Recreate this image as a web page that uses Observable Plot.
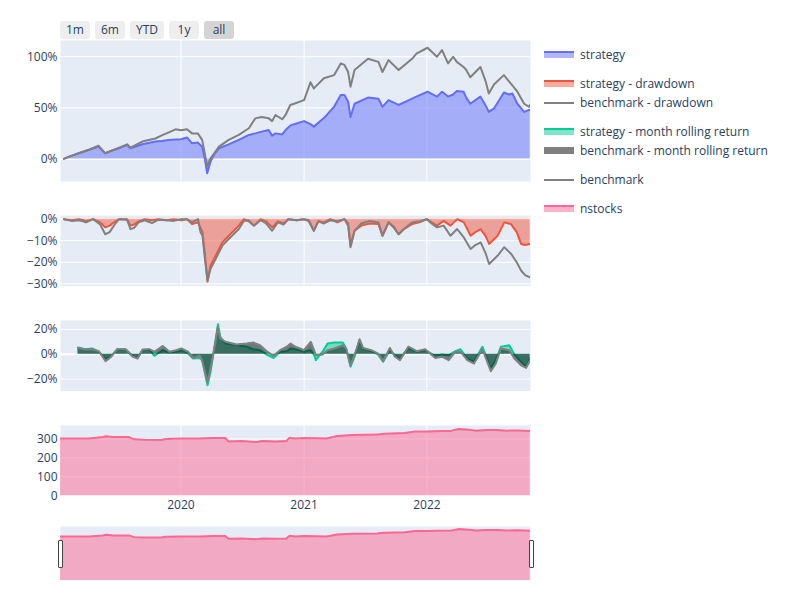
<!DOCTYPE html>
<html>
<head>
<meta charset="utf-8">
<script src="https://cdn.jsdelivr.net/npm/d3@7"></script>
<script src="https://cdn.jsdelivr.net/npm/@observablehq/plot@0.6"></script>
<style>
  body { margin: 0; background: #fff; font-family: "Open Sans", verdana, arial, sans-serif; }
  #chart { position: relative; width: 800px; height: 600px; overflow: hidden; background: #fff; }
  #chart > svg { position: absolute; left: 0; }
  .btn { position: absolute; top: 21px; height: 18px; line-height: 18px; text-align: center;
         font-size: 12px; color: #2a3f5f; background: #eeeeee; border-radius: 3px; }
  .btn.active { background: #d4d4d4; }
  .grab { position: absolute; width: 3px; height: 26px; background: #fff; border: 1px solid #444; border-radius: 1px; }
</style>
</head>
<body>
<div id="chart"></div>
<script>
// ---------------- data ----------------
const perfDates = [
  "2019-01-18","2019-02-05","2019-03-03","2019-04-02","2019-05-01","2019-05-21","2019-06-15","2019-07-05","2019-07-25","2019-08-04","2019-09-08","2019-10-17","2019-11-05","2019-11-26","2019-12-16",
  "2020-01-01","2020-01-19","2020-02-03","2020-02-20","2020-03-04","2020-03-12","2020-03-19","2020-03-29","2020-04-10","2020-04-23","2020-05-22","2020-06-21","2020-07-21","2020-08-09","2020-08-28","2020-09-18","2020-09-28","2020-10-08","2020-10-28","2020-11-07","2020-11-21","2020-12-02",
  "2021-01-01","2021-01-20","2021-01-30","2021-03-01","2021-03-31","2021-04-20","2021-05-01","2021-05-12","2021-05-19","2021-05-31","2021-07-10","2021-08-10","2021-08-22","2021-09-09","2021-10-09","2021-11-18","2021-12-01",
  "2022-01-03","2022-01-31","2022-02-15","2022-03-05","2022-03-20","2022-03-31","2022-04-20","2022-04-28","2022-05-10","2022-06-09","2022-06-25","2022-07-04","2022-07-20","2022-08-18","2022-09-02","2022-09-12","2022-09-27","2022-10-17","2022-11-01","2022-11-04"
];
const strategyReturn = [
  0,2.5,5.5,8.8,12,5.5,8.8,11,13.7,10.4,14.3,17,17.5,18.6,19,
  19.2,21,15.3,16,12,0,-14,-2.6,5,10.4,14.3,18.6,23.5,25,26.7,28.3,22.8,25,24,28.3,32.6,34,
  37,34,31.6,40,51,62.5,62.5,56,41,54,60,59,51,57.6,52.8,59,61,
  65.8,61,65.8,61,63,66.4,65.8,60,54,61,52,46,49.5,65,63,64,54,46,48,48
];
const benchmarkReturn = [
  0,2.5,5.5,9,13,5.5,8.8,11.5,14.3,11,17,20,23,26,29,
  28,29,25,25,18.6,5,-7.5,0.6,6,12,18.6,23.5,30,39.7,41,39.7,37,43,38.8,43,52.8,54,
  57.6,75,69,79,82,93.5,92,85,70.7,87,98,95,85,96.7,87,98,103,
  108.8,100,106.5,93.5,100,95,90,87,80,90,75.6,64,73,82,76,72,65.8,54,51,53
];

const ddDates = [
  "2019-01-18","2019-02-10","2019-03-05","2019-03-25","2019-04-15","2019-05-06","2019-05-21","2019-06-03","2019-06-20","2019-07-01","2019-07-25","2019-08-04","2019-08-15","2019-08-28","2019-09-15","2019-10-07","2019-10-25","2019-11-20","2019-12-10",
  "2020-01-02","2020-01-19","2020-02-03","2020-02-21","2020-02-28","2020-03-05","2020-03-12","2020-03-20","2020-03-29","2020-04-13","2020-05-03","2020-05-22","2020-06-21","2020-07-06","2020-07-20","2020-08-05","2020-08-25","2020-09-10","2020-09-28","2020-10-15","2020-11-01","2020-11-15","2020-12-10",
  "2021-01-01","2021-01-15","2021-01-30","2021-02-12","2021-03-01","2021-03-20","2021-04-10","2021-05-01","2021-05-12","2021-05-19","2021-05-31","2021-06-20","2021-07-15","2021-08-10","2021-08-22","2021-09-09","2021-09-25","2021-10-09","2021-10-25","2021-11-18","2021-12-10",
  "2022-01-01","2022-01-15","2022-01-31","2022-02-20","2022-03-12","2022-04-01","2022-04-21","2022-05-11","2022-05-25","2022-06-10","2022-06-25","2022-07-05","2022-07-30","2022-08-19","2022-09-08","2022-09-25","2022-10-08","2022-10-20","2022-11-04"
];
const strategyDrawdown = [
  0,-0.5,0,-1,0,-1.5,-3.8,-3,-1,0,0,-3,-2.5,-1,0,-0.5,0,-0.5,0,
  -0.5,0,-2.3,-1.5,-4,-6,-16,-29,-21.5,-17,-10.8,-7.7,-3,0,-1,-3,0,-1,-3.8,-1,-2,0,-0.5,
  0,-1,-5.4,-1,-1.5,0,-1.5,0,-3,-12.3,-5.4,-3,-2,-2.3,-7.7,-1.5,-3.5,-7,-4.6,-2.3,-1.5,
  0,-1.5,-3,-0.8,-3,0,-1.5,-7.7,-6,-4.6,-8,-11.5,-7.7,-1.5,-2.3,-6,-11.5,-12,-11.5
];
const benchmarkDrawdown = [
  0,-0.8,-0.5,-1.5,0,-2.5,-7,-6,-2,0,-0.3,-4.6,-4,-1.5,-0.5,-1.8,-0.3,-0.5,-0.8,
  0,0,-1.5,0,-6,-7.7,-18,-28.5,-23,-18.5,-12.3,-9.2,-4.6,-0.8,-0.5,-3,-0.5,-2,-5.4,-1.5,-2.5,0,-0.5,
  0,-0.5,-5.4,-1,-2,-0.5,-1,0,-2,-13,-5.4,-2,-0.8,-1.5,-7.7,-1.5,-4,-7,-4.6,-1.5,-1,
  0,-2,-3.8,-3,-7.7,-4.6,-8.5,-13.8,-12,-10.8,-16,-20.8,-17,-13,-16,-20,-23.8,-26,-27
];

const rollDates = [
  "2019-03-01","2019-03-23","2019-04-12","2019-05-02","2019-05-22","2019-06-06","2019-06-26","2019-07-21","2019-08-10","2019-08-25","2019-09-09","2019-09-29","2019-10-14","2019-11-08","2019-11-28","2019-12-18",
  "2020-01-02","2020-01-22","2020-02-06","2020-02-26","2020-03-04","2020-03-20","2020-03-29","2020-04-12","2020-04-20","2020-04-27","2020-05-12","2020-06-15","2020-07-15","2020-08-03","2020-08-23","2020-09-12","2020-10-02","2020-10-22","2020-11-11","2020-11-22","2020-12-06","2020-12-20",
  "2021-01-01","2021-01-21","2021-01-31","2021-02-05","2021-02-25","2021-03-12","2021-04-01","2021-04-26","2021-05-06","2021-05-19","2021-05-31","2021-06-15","2021-06-25","2021-07-20","2021-08-09","2021-08-24","2021-09-13","2021-09-28","2021-10-13","2021-11-07","2021-12-02","2021-12-27",
  "2022-01-26","2022-02-15","2022-03-07","2022-03-27","2022-04-11","2022-05-01","2022-05-21","2022-06-15","2022-07-10","2022-07-25","2022-08-09","2022-09-03","2022-09-18","2022-10-08","2022-10-23","2022-11-04"
];
const strategyRolling = [
  5.4,4,4.6,2,-4,-2,4,3.8,-1.3,-3,3.2,3.5,-1.3,3.2,1.3,2,
  3.2,0.5,-3.5,-3,-4.8,-25,-14,10,24,14,8.6,7.2,6,4,3.2,-0.3,-3,2,2.4,4.6,4,3.2,
  2,3.2,-0.8,-4.8,2,8.6,9.4,9.4,4.6,-10,-2,11.3,4.6,2.4,-0.3,-6,3.2,-0.8,-3.5,5,2,3.2,
  -1.3,-0.3,-0.8,2.4,4,-3.5,-6,6,-11.5,-4.8,6,7.2,-0.3,-6,-10,-3.5
];
const benchmarkRolling = [
  5,3.8,4,2.4,-5.6,-2.5,4,4,-2,-3.5,3.8,4,2,6.5,2,3.2,
  4.6,2,-3,-1.3,-4.8,-22.3,-11.5,8.6,22,12.6,10,7.8,8.6,9.4,7.2,2.4,-1.3,3.2,6,8.6,6,4.6,
  3.2,10,3,-0.8,-0.3,3.2,4.6,7.2,4.6,-8.9,-0.8,12,5,3.2,0.5,-5.6,5,-2,-4.8,6,2.4,4,
  -3,-2,-4.8,2,2,-4.8,-7.5,4,-13.7,-7.5,4.6,3.2,-3.5,-8.9,-11,-4.8
];

const stockDates = [
  "2019-01-08","2019-02-21","2019-04-03","2019-05-14","2019-05-24","2019-06-14","2019-07-30","2019-08-15","2019-09-15","2019-11-05","2019-11-15",
  "2020-01-01","2020-02-26","2020-04-07","2020-05-12","2020-05-22","2020-06-28","2020-08-13","2020-08-29","2020-10-09","2020-11-09","2020-11-19","2020-12-05",
  "2021-01-01","2021-03-09","2021-04-09","2021-05-25","2021-08-06","2021-08-26","2021-10-28","2021-11-27",
  "2022-01-01","2022-03-16","2022-04-05","2022-05-06","2022-05-26","2022-06-26","2022-07-27","2022-08-27","2022-09-27","2022-10-18","2022-11-04"
];
const nstocks = [
  303,302,303,310,314,310,310,298,296,295,300,
  303,303,305,305,287,289,284,289,287,289,307,303,
  305,303,316,321,323,328,332,340,
  340,344,353,349,344,347,347,344,345,344,342
];

const yearTicks = ["2020-01-01","2021-01-01","2022-01-01"];
const perfTicks = [0, 50, 100];
const ddTicks = [0, -10, -20, -30];
const rollTicks = [-20, 0, 20];
const stockTicks = [0, 100, 200, 300];
const buttonLabels = ["1m","6m","YTD","1y","all"];
const legendLabels = ["strategy","strategy - drawdown","benchmark - drawdown","strategy - month rolling return","benchmark - month rolling return","benchmark","nstocks"];

// ---------------- build tables ----------------
const parse = d3.utcParse("%Y-%m-%d");
const perf = perfDates.map((d, i) => ({date: parse(d), s: strategyReturn[i], b: benchmarkReturn[i]}));
const dd = ddDates.map((d, i) => ({date: parse(d), s: strategyDrawdown[i], b: benchmarkDrawdown[i]}));
const roll = rollDates.map((d, i) => ({date: parse(d), s: strategyRolling[i], b: benchmarkRolling[i]}));
const stocks = stockDates.map((d, i) => ({date: parse(d), n: nstocks[i]}));
const years = yearTicks.map(parse);

const FONT = '"Open Sans", verdana, arial, sans-serif';
const TEXT = "#2a3f5f";
const BG = "#e5ecf6";
const xDomain = [parse("2019-01-08"), parse("2022-11-05")];
const pct = d => (d < 0 ? "\u2212" : "") + Math.abs(d) + "%";

function panel({top, h, yDomain, yTicks, tickFormat, marks, xAxis = false, grid = true}) {
  const mb = xAxis ? 24 : 0;
  const svg = Plot.plot({
    width: 800, height: h + mb,
    marginLeft: 60, marginRight: 270, marginTop: 0, marginBottom: mb,
    style: {fontFamily: FONT, fontSize: "12px", color: TEXT, background: "transparent", overflow: "visible"},
    x: {type: "utc", domain: xDomain, axis: xAxis ? undefined : null, label: null},
    y: {domain: yDomain, axis: yTicks.length ? undefined : null, label: null},
    marks: [
      Plot.frame({fill: BG, stroke: "none"}),
      ...(grid ? [
        Plot.gridX(years, {stroke: "#fff", strokeOpacity: 1, strokeWidth: 1}),
        Plot.gridY(yTicks.filter(t => t !== 0), {stroke: "#fff", strokeOpacity: 1, strokeWidth: 1}),
        Plot.ruleY([0], {stroke: "#fff", strokeWidth: 2})
      ] : []),
      ...marks,
      ...(yTicks.length ? [Plot.axisY(yTicks, {tickSize: 0, tickPadding: 3, tickFormat, fontSize: 12, fill: TEXT, label: null})] : []),
      ...(xAxis ? [Plot.axisX(years, {tickSize: 0, tickPadding: 4, tickFormat: d3.utcFormat("%Y"), fontSize: 12, fill: TEXT, label: null})] : [])
    ]
  });
  svg.style.top = top + "px";
  return svg;
}

const chart = document.getElementById("chart");
const area = (data, y, fill, opacity = 0.5) => Plot.areaY(data, {x: "date", y, fill, fillOpacity: opacity, clip: true});
const line = (data, y, stroke) => Plot.lineY(data, {x: "date", y, stroke, strokeWidth: 2, clip: true});

chart.appendChild(panel({top: 40, h: 141, yDomain: [-22.1, 115.9], yTicks: perfTicks, tickFormat: pct,
  marks: [area(perf, "s", "#636efa"), line(perf, "s", "#636efa"), line(perf, "b", "gray")]}));
chart.appendChild(panel({top: 215, h: 70.5, yDomain: [-31, 1.7], yTicks: ddTicks, tickFormat: pct,
  marks: [area(dd, "s", "#EF553B"), line(dd, "s", "#EF553B"), line(dd, "b", "gray")]}));
chart.appendChild(panel({top: 320, h: 70.5, yDomain: [-29.6, 27.1], yTicks: rollTicks, tickFormat: pct,
  marks: [area(roll, "s", "#00cc96"), line(roll, "s", "#00cc96"), area(roll, "b", "black"), line(roll, "b", "gray")]}));
chart.appendChild(panel({top: 424.5, h: 70.5, yDomain: [0, 371], yTicks: stockTicks, tickFormat: d => String(d), xAxis: true,
  marks: [area(stocks, "n", "#FF6692"), line(stocks, "n", "#FF6692")]}));
chart.appendChild(panel({top: 526, h: 54, yDomain: [0, 371], yTicks: [], grid: false,
  marks: [area(stocks, "n", "#FF6692"), line(stocks, "n", "#FF6692")]}));

// range slider grabbers
[57.5, 528.5].forEach(x => {
  const g = document.createElement("div");
  g.className = "grab";
  g.style.left = x + "px";
  g.style.top = "540px";
  chart.appendChild(g);
});

// range selector buttons
const btnLefts = [60, 95, 130, 169, 204];
const btnWidths = [30, 30, 34, 30, 30];
buttonLabels.forEach((t, i) => {
  const b = document.createElement("div");
  b.className = "btn" + (t === "all" ? " active" : "");
  b.style.left = btnLefts[i] + "px";
  b.style.width = btnWidths[i] + "px";
  b.textContent = t;
  chart.appendChild(b);
});

// legend
const legendY = [55, 84, 103, 132, 151, 180, 209];
const legendStyle = [
  {stroke: "#636efa", fill: "#636efa"},
  {stroke: "#EF553B", fill: "#EF553B"},
  {stroke: "gray", fill: null},
  {stroke: "#00cc96", fill: "#00cc96"},
  {stroke: "gray", fill: "black"},
  {stroke: "gray", fill: null},
  {stroke: "#FF6692", fill: "#FF6692"}
];
const leg = d3.create("svg").attr("width", 800).attr("height", 600)
  .style("position", "absolute").style("left", "0px").style("top", "0px").style("pointer-events", "none");
legendLabels.forEach((label, i) => {
  const c = legendY[i], st = legendStyle[i];
  if (st.fill) {
    leg.append("rect").attr("x", 544).attr("y", c - 3).attr("width", 30).attr("height", 6)
      .attr("fill", st.fill).attr("fill-opacity", 0.5);
    leg.append("line").attr("x1", 544).attr("x2", 574).attr("y1", c - 3).attr("y2", c - 3)
      .attr("stroke", st.stroke).attr("stroke-width", 2);
  } else {
    leg.append("line").attr("x1", 544).attr("x2", 574).attr("y1", c).attr("y2", c)
      .attr("stroke", st.stroke).attr("stroke-width", 2);
  }
  leg.append("text").attr("x", 580).attr("y", c).attr("dy", "0.35em")
    .attr("fill", TEXT).style("font-family", FONT).style("font-size", "12px").text(label);
});
chart.appendChild(leg.node());
</script>
</body>
</html>
